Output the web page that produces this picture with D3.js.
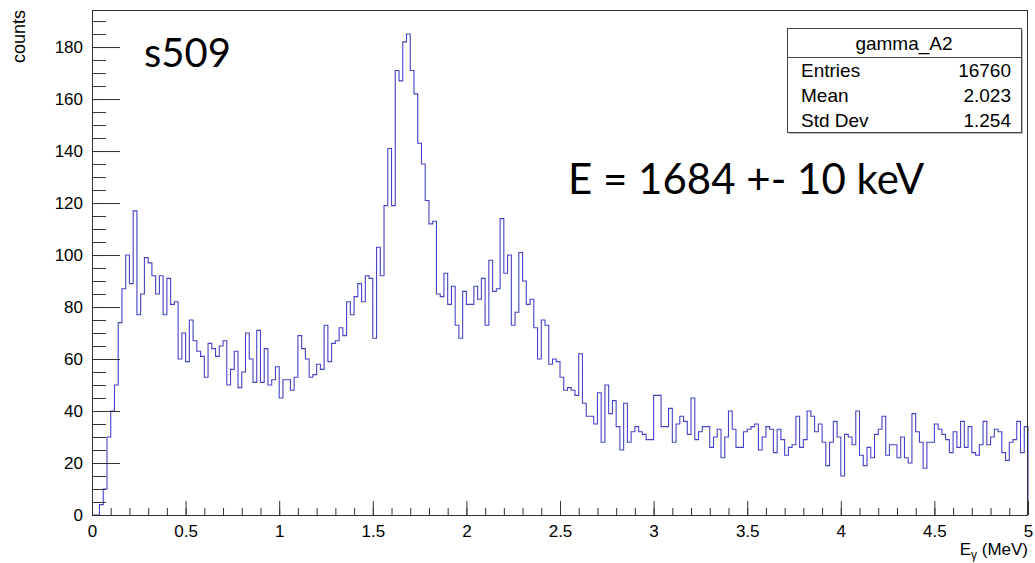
<!DOCTYPE html>
<html>
<head>
<meta charset="utf-8">
<script src="https://cdn.jsdelivr.net/npm/d3@7"></script>
<style>
  html, body { margin: 0; padding: 0; background: #fff; }
  svg { display: block; }
  text { fill: #000; }
</style>
</head>
<body>
<svg id="chart" width="1035" height="563"></svg>
<script>
// ---- data ----
const binLow = 0, binHigh = 5, nBins = 250;   // 0.02 MeV bins
const counts = [
  0, 0, 4, 10, 30, 40, 50, 74, 87, 100,
  89, 117, 77, 85, 99, 97, 92, 85, 92, 77,
  91, 81, 82, 60, 70, 59, 75, 67, 63, 61,
  53, 66, 64, 61, 65, 67, 50, 56, 63, 49,
  55, 70, 60, 51, 71, 51, 64, 50, 52, 57,
  45, 52, 52, 48, 53, 69, 64, 60, 53, 54,
  58, 56, 73, 59, 66, 67, 72, 69, 82, 77,
  84, 89, 82, 92, 91, 68, 103, 92, 119, 141,
  119, 171, 167, 182, 185, 171, 162, 143, 135, 121,
  112, 113, 85, 84, 93, 81, 88, 73, 68, 86,
  81, 81, 88, 83, 91, 73, 98, 86, 87, 114,
  93, 100, 73, 78, 101, 90, 81, 83, 72, 60,
  75, 73, 58, 60, 59, 53, 48, 49, 48, 46,
  62, 43, 38, 38, 35, 47, 28, 50, 39, 44,
  34, 25, 43, 28, 32, 34, 32, 31, 29, 29,
  46, 46, 34, 34, 41, 28, 35, 38, 36, 31,
  45, 29, 32, 34, 34, 26, 30, 33, 22, 30,
  40, 33, 26, 26, 32, 33, 34, 35, 25, 30,
  34, 33, 24, 33, 29, 23, 26, 27, 38, 26,
  29, 40, 38, 32, 35, 28, 19, 28, 36, 30,
  15, 31, 30, 27, 40, 23, 19, 26, 22, 31,
  33, 38, 23, 27, 27, 22, 30, 22, 20, 39,
  32, 28, 18, 28, 28, 35, 33, 31, 29, 24,
  32, 26, 36, 26, 34, 24, 23, 27, 36, 27,
  30, 33, 32, 24, 21, 28, 29, 36, 24, 34
];
const xTickLabels = ["0", "0.5", "1", "1.5", "2", "2.5", "3", "3.5", "4", "4.5", "5"];
const xTickValues = [0, 0.5, 1, 1.5, 2, 2.5, 3, 3.5, 4, 4.5, 5];
const yTickValues = [0, 20, 40, 60, 80, 100, 120, 140, 160, 180];
const statsTitle = "gamma_A2";
const statsLabels = ["Entries", "Mean", "Std Dev"];
const statsValues = ["16760", "2.023", "1.254"];
const runLabel = "s509";
const energyLabel = "E = 1684 +- 10 keV";

// ---- layout ----
const HELV = "'Liberation Sans', Arial, sans-serif";
const CAL = "Lato, 'Open Sans', sans-serif";
const L = 92, R = 1028, T = 10, B = 515;
const yMax = 1.05 * d3.max(counts);
const svg = d3.select("#chart").style("font-family", HELV);
const x = d3.scaleLinear().domain([binLow, binHigh]).range([L, R]);
const y = d3.scaleLinear().domain([0, yMax]).range([B, T]);
const bw = (binHigh - binLow) / nBins;

// histogram step outline
const pts = [[binLow, 0]];
counts.forEach((c, i) => {
  pts.push([binLow + i * bw, c]);
  pts.push([binLow + (i + 1) * bw, c]);
});
pts.push([binHigh, 0]);
const line = d3.line().x(d => x(d[0])).y(d => y(d[1]));

svg.append("path")
  .attr("d", line(pts))
  .attr("fill", "none")
  .attr("stroke", "#4444c6")
  .attr("stroke-width", 1.1);

// axes (ROOT style ticks inside)
const gx = svg.append("g").attr("transform", `translate(0,${B})`);
gx.call(d3.axisBottom(x).tickValues(d3.range(0, 50.5, 1).map(d => d / 10)).tickSize(-7).tickFormat(""));
gx.call(g => g.selectAll(".domain").remove());
const gx2 = svg.append("g").attr("transform", `translate(0,${B})`);
gx2.call(d3.axisBottom(x).tickValues(xTickValues).tickSize(-14).tickPadding(10)
  .tickFormat((d, i) => xTickLabels[i]));
gx2.call(g => g.selectAll(".domain").remove());
gx2.selectAll("text").style("font-size", "17px").style("font-family", HELV);

const gy = svg.append("g").attr("transform", `translate(${L},0)`);
gy.call(d3.axisLeft(y).tickValues(d3.range(0, 191, 5)).tickSize(-14).tickFormat(""));
gy.call(g => g.selectAll(".domain").remove());
const gy2 = svg.append("g").attr("transform", `translate(${L},0)`);
gy2.call(d3.axisLeft(y).tickValues(yTickValues).tickSize(-28).tickPadding(9));
gy2.call(g => g.selectAll(".domain").remove());
gy2.selectAll("text").style("font-size", "17px").style("font-family", HELV);

svg.selectAll(".tick line").attr("stroke", "#333");

// frame
svg.append("rect").attr("x", L + 0.5).attr("y", T + 0.5)
  .attr("width", R - L - 1).attr("height", B - T)
  .attr("fill", "none").attr("stroke", "#333").attr("stroke-width", 1);

// axis titles
const xt = svg.append("text").attr("x", R).attr("y", 555).attr("text-anchor", "end").style("font-size", "17px");
xt.append("tspan").text("E");
xt.append("tspan").style("font-size", "12px").attr("dy", 4).text("γ");
xt.append("tspan").attr("dy", -4).text(" (MeV)");

svg.append("text")
  .attr("transform", `translate(25,${T}) rotate(-90)`)
  .attr("text-anchor", "end")
  .style("font-size", "18px")
  .text("counts");

// stats box
const bx = 787, by = 28, bwid = 234, bh = 104, sep = 57.5;
svg.append("rect").attr("x", bx + 2).attr("y", by + 2).attr("width", bwid).attr("height", bh).attr("fill", "#bbb");
svg.append("rect").attr("x", bx + 0.5).attr("y", by + 0.5).attr("width", bwid).attr("height", bh)
  .attr("fill", "#fff").attr("stroke", "#444").attr("stroke-width", 1);
svg.append("line").attr("x1", bx).attr("x2", bx + bwid).attr("y1", sep).attr("y2", sep)
  .attr("stroke", "#444").attr("stroke-width", 1);
svg.append("text").attr("x", bx + bwid / 2).attr("y", 50).attr("text-anchor", "middle")
  .style("font-size", "19px").text(statsTitle);
statsLabels.forEach((lab, i) => {
  const yy = 77 + i * 25;
  svg.append("text").attr("x", 801).attr("y", yy).style("font-size", "19px").text(lab);
  svg.append("text").attr("x", 1011).attr("y", yy).attr("text-anchor", "end").style("font-size", "19px").text(statsValues[i]);
});

// annotations
svg.append("text").attr("x", 144).attr("y", 67)
  .style("font-family", CAL).style("font-size", "40px").text(runLabel);
svg.append("text").attr("x", 568).attr("y", 194)
  .style("font-family", CAL).style("font-size", "42px").text(energyLabel);
</script>
</body>
</html>
